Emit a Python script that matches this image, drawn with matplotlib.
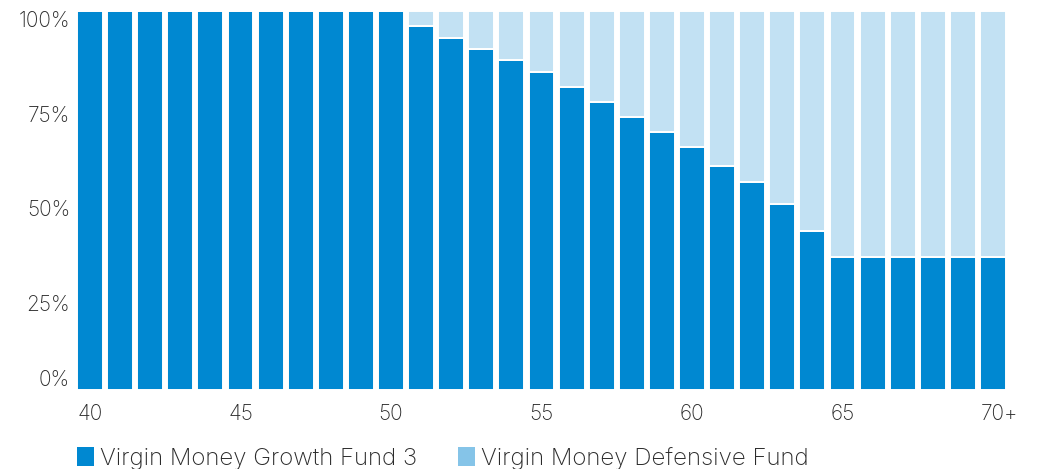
import matplotlib
matplotlib.use("Agg")
import matplotlib.pyplot as plt
from matplotlib.patches import Patch
import numpy as np

plt.rcParams['font.family'] = ['Inter', 'DejaVu Sans']
plt.rcParams['font.weight'] = 'light'

ages = [str(a) for a in range(40, 70)] + ["70+"]
growth = [100, 100, 100, 100, 100, 100, 100, 100, 100, 100, 100,
          96, 93, 90, 87, 84, 80, 76, 72, 68, 64, 59, 55, 49, 42,
          35, 35, 35, 35, 35, 35]
defensive = [100 - g for g in growth]
ytick_vals = [0, 25, 50, 75, 100]
ytick_labels = ["0%", "25%", "50%", "75%", "100%"]
xtick_labels = ["40", "45", "50", "55", "60", "65", "70+"]

growth_color = "#0088d1"
def_color = "#c2e1f3"
def_legend_color = "#85c4e8"
text_color = "#2b2b2b"

fig = plt.figure(figsize=(10.40, 4.69), dpi=100)
ax = fig.add_axes([77/1040, 79/469, 929/1040, 379/469])

x = np.arange(len(ages))
w = 0.86
ax.bar(x, growth, width=w, color=growth_color, edgecolor="white", linewidth=1.4)
ax.bar(x, defensive, width=w, bottom=growth, color=def_color, edgecolor="white", linewidth=1.4)

ax.set_xlim(-w/2, len(ages) - 1 + w/2)
ax.set_ylim(0, 100)

for s in ax.spines.values():
    s.set_visible(False)

ax.set_yticks(ytick_vals)
ax.set_yticklabels(ytick_labels)
ax.tick_params(axis='y', length=0, pad=5, labelsize=15, labelcolor=text_color)
for lbl, v in zip(ax.get_yticklabels(), ytick_vals):
    lbl.set_verticalalignment('bottom' if v == 0 else 'top')

# x labels left-aligned with the left edge of their bar
xt_idx = np.array([ages.index(l) for l in xtick_labels])
ax.set_xticks(xt_idx - w/2 + 0.02)
ax.set_xticklabels(xtick_labels, ha='left')
ax.tick_params(axis='x', length=0, pad=10, labelsize=15, labelcolor=text_color)

handles = [Patch(facecolor=growth_color, edgecolor='none', label="Virgin Money Growth Fund 3"),
           Patch(facecolor=def_legend_color, edgecolor='none', label="Virgin Money Defensive Fund")]
leg = fig.legend(handles=handles, loc='lower left', bbox_to_anchor=(77/1040, -1/469),
                 ncol=2, frameon=False, fontsize=17.3, handlelength=0.72, handleheight=0.8,
                 handletextpad=0.24, columnspacing=1.7, borderaxespad=0, borderpad=0)
for t in leg.get_texts():
    t.set_color(text_color)

fig.savefig("out.png", dpi=100)
